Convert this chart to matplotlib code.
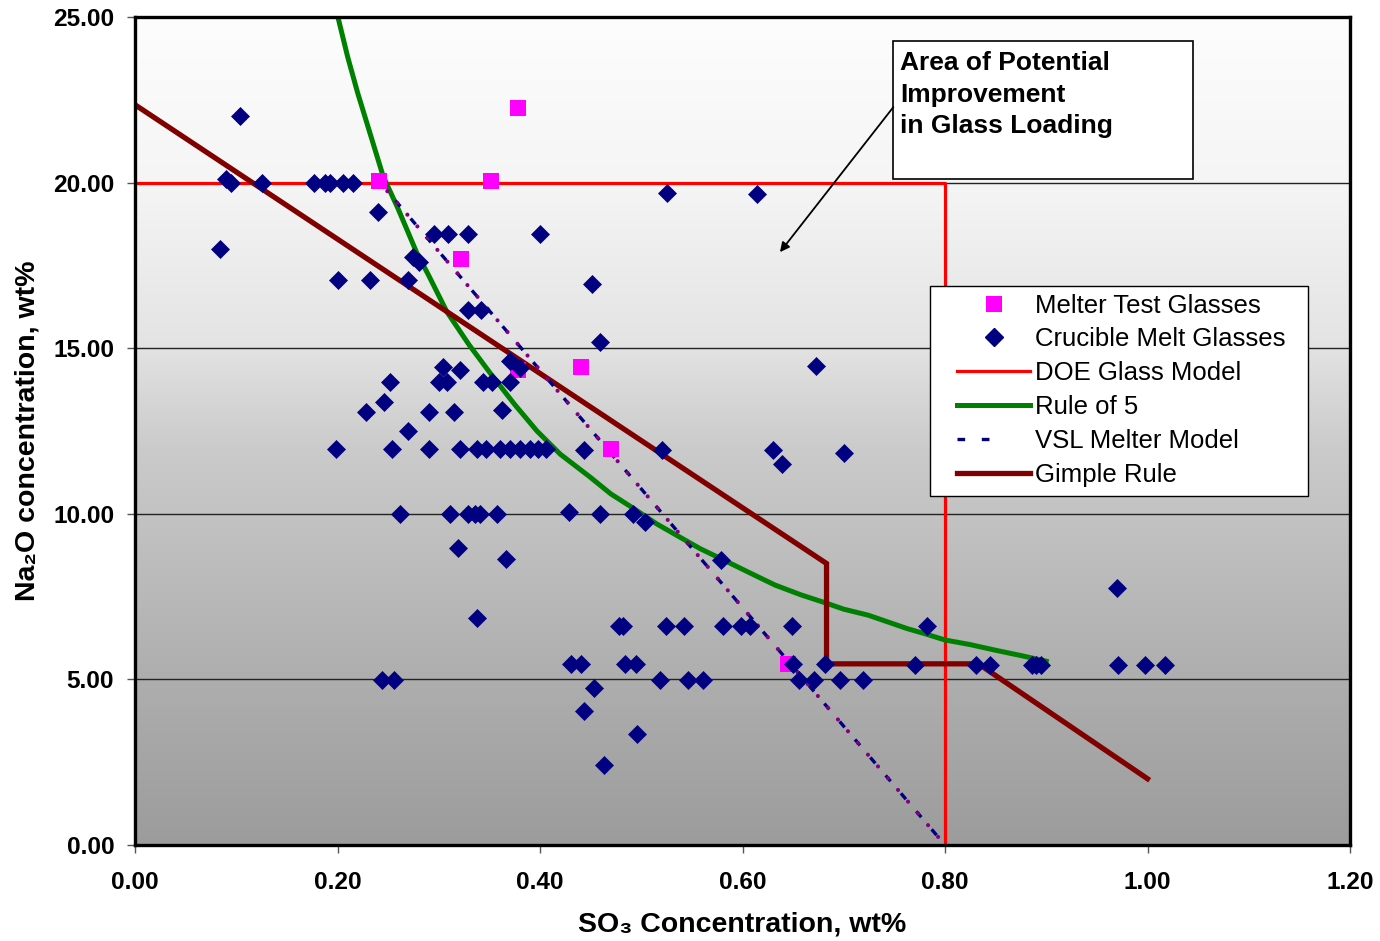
import matplotlib
matplotlib.use("Agg")
import matplotlib.pyplot as plt
import numpy as np
from matplotlib.lines import Line2D
from matplotlib.patches import Rectangle
from matplotlib.legend_handler import HandlerTuple

plt.rcParams['font.family'] = ['Liberation Sans', 'DejaVu Sans']
plt.rcParams['lines.scale_dashes'] = False

# ---------------- data ----------------
melter_x = [0.241, 0.322, 0.352, 0.378, 0.378, 0.440, 0.470, 0.645]
melter_y = [20.05, 17.69, 20.05, 22.25, 14.35, 14.43, 11.95, 5.47]

crucible_x = [0.084, 0.104, 0.090, 0.095, 0.125,
              0.177, 0.188, 0.193, 0.205, 0.215,
              0.240, 0.275, 0.280, 0.200, 0.232, 0.270,
              0.295, 0.309, 0.329, 0.400, 0.525, 0.614,
              0.451, 0.329, 0.342, 0.459,
              0.370, 0.380, 0.673, 0.304, 0.321,
              0.252, 0.300, 0.308, 0.344, 0.353, 0.370,
              0.246, 0.228, 0.290, 0.315, 0.362, 0.270,
              0.199, 0.254, 0.290, 0.321, 0.338, 0.347, 0.360, 0.370, 0.380,
              0.390, 0.398, 0.406, 0.443, 0.520, 0.630, 0.639, 0.700,
              0.262, 0.311, 0.329, 0.336, 0.341, 0.358, 0.429, 0.459, 0.492, 0.504,
              0.319, 0.366, 0.579, 0.338,
              0.478, 0.482, 0.524, 0.542, 0.581, 0.599, 0.607, 0.649, 0.782,
              0.431, 0.440, 0.484, 0.495, 0.650, 0.681, 0.770, 0.831, 0.844,
              0.886, 0.890, 0.895, 0.971, 0.998, 1.017,
              0.244, 0.256, 0.519, 0.546, 0.561, 0.656, 0.671, 0.696, 0.719,
              0.453, 0.443, 0.496, 0.463, 0.970]
crucible_y = [18.0, 22.0, 20.1, 20.0, 20.0,
              20.0, 20.0, 20.0, 20.0, 20.0,
              19.1, 17.75, 17.6, 17.05, 17.05, 17.05,
              18.45, 18.45, 18.45, 18.45, 19.7, 19.66,
              16.95, 16.15, 16.15, 15.2,
              14.6, 14.4, 14.46, 14.42, 14.35,
              13.97, 13.97, 13.97, 13.97, 13.97, 13.97,
              13.37, 13.07, 13.07, 13.07, 13.13, 12.5,
              11.96, 11.96, 11.96, 11.96, 11.96, 11.96, 11.96, 11.96, 11.96,
              11.96, 11.96, 11.96, 11.93, 11.93, 11.93, 11.5, 11.85,
              10.0, 10.0, 10.0, 10.0, 10.0, 10.0, 10.05, 10.0, 10.0, 9.75,
              8.96, 8.65, 8.6, 6.84,
              6.6, 6.6, 6.6, 6.6, 6.6, 6.6, 6.6, 6.6, 6.6,
              5.45, 5.45, 5.45, 5.45, 5.45, 5.45, 5.42, 5.42, 5.42,
              5.42, 5.42, 5.42, 5.42, 5.42, 5.42,
              4.97, 4.97, 4.97, 4.97, 4.97, 4.97, 4.97, 4.97, 4.97,
              4.73, 4.06, 3.34, 2.42, 7.75]

doe_x = [0.0, 0.80, 0.80]
doe_y = [20.0, 20.0, 0.0]

rule5_x = [0.198, 0.210, 0.220, 0.230, 0.245, 0.260, 0.278, 0.290, 0.308,
           0.330, 0.351, 0.375, 0.397, 0.420, 0.449, 0.470, 0.492, 0.515,
           0.535, 0.558, 0.581, 0.605, 0.632, 0.658, 0.683, 0.700, 0.724,
           0.745, 0.762, 0.780, 0.800, 0.825, 0.850, 0.875, 0.894, 0.900]
rule5_y = [25.3, 23.8, 22.7, 21.7, 20.2, 19.2, 17.9, 17.2, 16.1,
           15.1, 14.24, 13.3, 12.5, 11.8, 11.12, 10.6, 10.17, 9.7,
           9.35, 8.95, 8.61, 8.25, 7.85, 7.55, 7.30, 7.12, 6.94,
           6.72, 6.54, 6.38, 6.19, 6.05, 5.88, 5.72, 5.59, 5.55]

vsl_x = [0.242, 0.800]
vsl_y = [20.0, 0.0]

gimple_x = [0.0, 0.683, 0.683, 0.833, 1.000]
gimple_y = [22.35, 8.5, 5.47, 5.47, 2.0]

xticks = [0.0, 0.2, 0.4, 0.6, 0.8, 1.0, 1.2]
yticks = [0, 5, 10, 15, 20, 25]

# ---------------- figure ----------------
fig = plt.figure(figsize=(13.8, 9.41), dpi=100)
ax = fig.add_axes([135/1380, 96/941, 1215/1380, 828/941])
ax.set_xlim(0, 1.2)
ax.set_ylim(0, 25)

# background gradient (top near white -> bottom gray)
nodes_f = [0.0, 0.2, 0.39, 0.52, 0.8, 1.0]
nodes_v = [253, 245, 228, 203, 174, 156]
fr = np.linspace(0, 1, 400)
vals = np.interp(fr, nodes_f, nodes_v) / 255.0
grad = np.repeat(vals[:, None], 2, axis=1)
img = np.dstack([grad, grad, grad])
ax.imshow(img, extent=[0, 1, 0, 1], transform=ax.transAxes, aspect='auto',
          zorder=0, interpolation='bilinear')
ax.patch.set_visible(False)

# gridlines
for yv in yticks[1:-1]:
    ax.axhline(yv, color='#222222', lw=1.0, zorder=1)

# lines
ax.plot(doe_x, doe_y, color='#FF0000', lw=2.3, zorder=3)
ax.plot(rule5_x, rule5_y, color='#008000', lw=3.6, zorder=3, solid_joinstyle='round')
ax.plot(vsl_x, vsl_y, color='#000080', lw=2.4, linestyle=(0, (5.5, 11.5)), zorder=4)
ax.plot(vsl_x, vsl_y, color='#800080', lw=3.0, linestyle=(3, (0.01, 11.1)),
        dash_capstyle='round', zorder=4)
ax.plot(gimple_x, gimple_y, color='#800000', lw=3.8, zorder=3, solid_joinstyle='miter')

# points
ax.plot(crucible_x, crucible_y, linestyle='none', marker='D', ms=9.0,
        color='#000080', mec='#000080', mew=0.5, zorder=5)
ax.plot(melter_x, melter_y, linestyle='none', marker='s', ms=11.2,
        color='#FF00FF', mec='#FF00FF', mew=0, zorder=4.5)

# axes styling
for s in ax.spines.values():
    s.set_linewidth(2.4)
    s.set_color('black')
    s.set_zorder(6)
ax.set_xticks(xticks)
ax.set_yticks(yticks)
ax.set_xticklabels([f"{v:.2f}" for v in xticks], fontsize=17.6, fontweight='bold')
ax.set_yticklabels([f"{v:.2f}" for v in yticks], fontsize=17.6, fontweight='bold')
ax.tick_params(axis='both', direction='out', length=6, width=1.0, color='#555555')
ax.tick_params(axis='x', pad=13)
ax.tick_params(axis='y', pad=9)

ax.set_xlabel("SO\u2083 Concentration, wt%", fontsize=20.5, fontweight='bold', labelpad=12)
ax.set_ylabel("Na\u2082O concentration, wt%", fontsize=20.5, fontweight='bold', labelpad=9)

# annotation box
box = Rectangle((0.624, 0.804), 0.247, 0.167, transform=ax.transAxes,
                facecolor='white', edgecolor='black', lw=1.2, zorder=7)
ax.add_patch(box)
ax.text(0.630, 0.959, "Area of Potential\nImprovement\nin Glass Loading",
        transform=ax.transAxes, fontsize=19, fontweight='bold', va='top', ha='left',
        linespacing=1.4, zorder=8)
ax.annotate("", xy=(0.637, 17.9), xytext=(0.749, 22.28),
            arrowprops=dict(arrowstyle='-|>', color='black', lw=1.3,
                            mutation_scale=14, shrinkA=0, shrinkB=0), zorder=8)

# legend frame drawn manually
lbox = Rectangle((0.6543, 0.4215), 0.3111, 0.2536, transform=ax.transAxes,
                 facecolor='white', edgecolor='black', lw=1.0, zorder=8)
ax.add_patch(lbox)

h_melter = Line2D([], [], linestyle='none', marker='s', ms=11, color='#FF00FF', mew=0)
h_cruc = Line2D([], [], linestyle='none', marker='D', ms=9, color='#000080')
h_doe = Line2D([], [], color='#FF0000', lw=2.3)
h_r5 = Line2D([], [], color='#008000', lw=3.6)
h_vsl1 = Line2D([], [], color='#000080', lw=2.4, linestyle=(0, (5.5, 12)))
h_vsl2 = Line2D([], [], color='#800080', lw=3.0, linestyle=(34, (0.01, 60)),
                dash_capstyle='round')
h_gim = Line2D([], [], color='#800000', lw=3.8)
leg = ax.legend([h_melter, h_cruc, h_doe, h_r5, (h_vsl1, h_vsl2), h_gim],
                ["Melter Test Glasses", "Crucible Melt Glasses", "DOE Glass Model",
                 "Rule of 5", "VSL Melter Model", "Gimple Rule"],
                handler_map={tuple: HandlerTuple(ndivide=None)},
                loc='upper left', bbox_to_anchor=(0.6765, 0.666), borderaxespad=0,
                fontsize=18.5, frameon=False, handlelength=2.85, handletextpad=0.2,
                labelspacing=0.385, borderpad=0)
leg.set_zorder(9)

fig.savefig("out.png", dpi=100)
